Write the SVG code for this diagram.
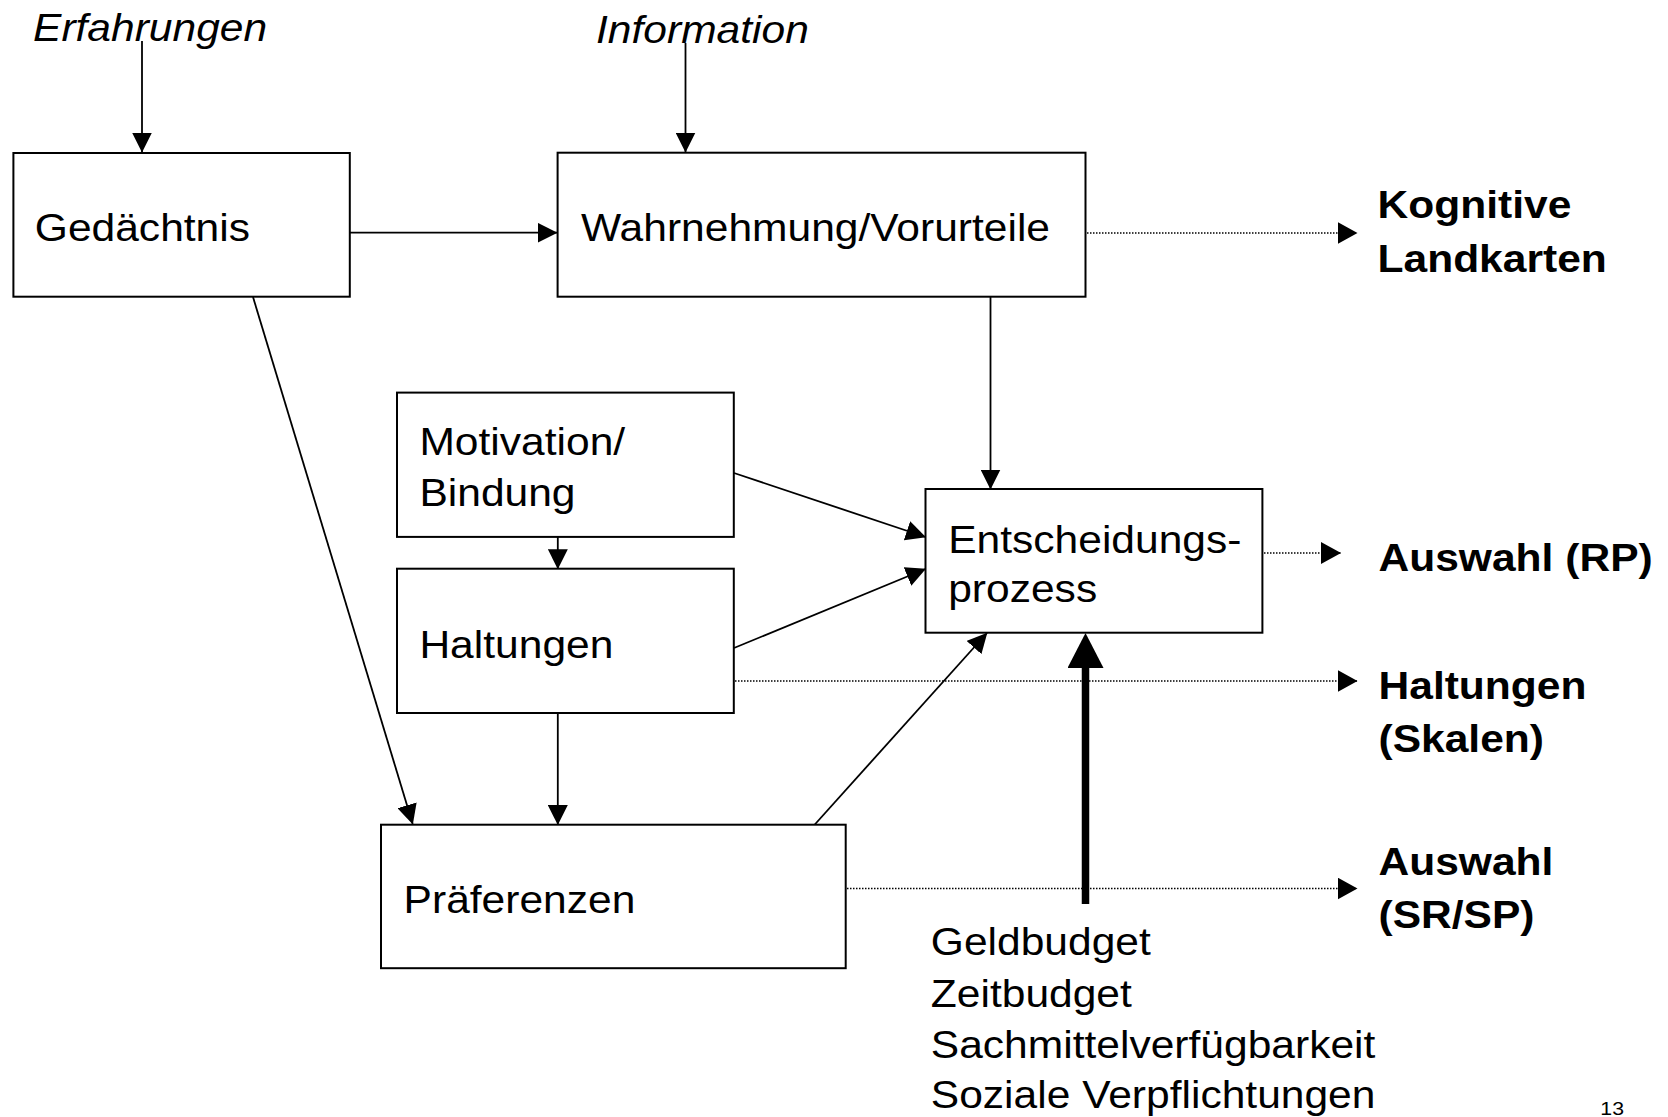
<svg xmlns="http://www.w3.org/2000/svg" width="1668" height="1117" viewBox="0 0 1668 1117">
<style>
  .box { fill: #ffffff; stroke: #000000; stroke-width: 2; }
  .t { font-family: "Liberation Sans", Arial, sans-serif; font-size: 38px; fill: #000000; }
  .it { font-style: italic; }
  .b { font-weight: bold; }
  .small { font-size: 19px; }
  .ln { stroke: #000000; stroke-width: 1.8; fill: none; }
  .dot { stroke: #000000; stroke-width: 1.3; stroke-dasharray: 1.5 1.5; fill: none; }
  .thick { stroke: #000000; stroke-width: 7.5; fill: none; }
</style>
<defs>
  <marker id="ah" markerUnits="userSpaceOnUse" markerWidth="21" markerHeight="20" refX="19.5" refY="10" orient="auto" viewBox="0 0 21 20">
    <path d="M0,0 L20,10 L0,20 Z" fill="#000000"/>
  </marker>
  <marker id="ahd" markerUnits="userSpaceOnUse" markerWidth="21" markerHeight="22" refX="19.5" refY="11" orient="auto" viewBox="0 0 21 22">
    <path d="M0,0 L20,11 L0,22 Z" fill="#000000"/>
  </marker>
  <marker id="aht" markerUnits="userSpaceOnUse" markerWidth="36" markerHeight="36" refX="0" refY="18" orient="auto" viewBox="0 0 36 36">
    <path d="M0,0 L35,18 L0,36 Z" fill="#000000"/>
  </marker>
</defs>
<rect x="0" y="0" width="1668" height="1117" fill="#ffffff"/>

<g id="connectors">
  <line class="ln" x1="142" y1="41" x2="142" y2="152" marker-end="url(#ah)"/>
  <line class="ln" x1="685.5" y1="43" x2="685.5" y2="152" marker-end="url(#ah)"/>
  <line class="ln" x1="350" y1="232.7" x2="557" y2="232.7" marker-end="url(#ah)"/>
  <line class="ln" x1="253" y1="297" x2="412.7" y2="824" marker-end="url(#ah)"/>
  <line class="ln" x1="990.5" y1="297" x2="990.5" y2="489" marker-end="url(#ah)"/>
  <line class="ln" x1="557.8" y1="537" x2="557.8" y2="568.7" marker-end="url(#ah)"/>
  <line class="ln" x1="557.8" y1="713" x2="557.8" y2="824.5" marker-end="url(#ah)"/>
  <line class="ln" x1="734" y1="473" x2="925.5" y2="537" marker-end="url(#ah)"/>
  <line class="ln" x1="734" y1="648" x2="925.5" y2="569" marker-end="url(#ah)"/>
  <line class="ln" x1="814.8" y1="824.5" x2="987" y2="633" marker-end="url(#ah)"/>
  <line class="thick" x1="1085.5" y1="904" x2="1085.5" y2="668" marker-end="url(#aht)"/>
  <line class="dot" x1="1087" y1="233" x2="1357" y2="233" marker-end="url(#ahd)"/>
  <line class="dot" x1="1264" y1="553" x2="1340.5" y2="553" marker-end="url(#ahd)"/>
  <line class="dot" x1="735" y1="681" x2="1357" y2="681" marker-end="url(#ahd)"/>
  <line class="dot" x1="847" y1="888.5" x2="1357" y2="888.5" marker-end="url(#ahd)"/>
</g>

<g id="erfahrungen">
  <text class="t it" transform="translate(33,40.7) scale(1.12,1)">Erfahrungen</text>
</g>
<g id="information">
  <text class="t it" transform="translate(596,43.3) scale(1.12,1)">Information</text>
</g>

<g id="gedaechtnis">
  <rect class="box" x="13.4" y="153" width="336.4" height="143.7"/>
  <text class="t" transform="translate(34.8,240.7) scale(1.12,1)">Gedächtnis</text>
</g>
<g id="wahrnehmung">
  <rect class="box" x="557.6" y="152.7" width="527.9" height="144"/>
  <text class="t" transform="translate(581,240.7) scale(1.12,1)">Wahrnehmung/Vorurteile</text>
</g>
<g id="motivation">
  <rect class="box" x="397" y="392.6" width="336.8" height="144.3"/>
  <text class="t" transform="translate(419.4,454.6) scale(1.12,1)"><tspan x="0" y="0">Motivation/</tspan><tspan x="0" y="51.7">Bindung</tspan></text>
</g>
<g id="haltungen">
  <rect class="box" x="397" y="568.7" width="336.8" height="144.3"/>
  <text class="t" transform="translate(419.4,657.5) scale(1.12,1)">Haltungen</text>
</g>
<g id="praeferenzen">
  <rect class="box" x="381" y="824.7" width="464.7" height="143.5"/>
  <text class="t" transform="translate(403.6,912.7) scale(1.12,1)">Präferenzen</text>
</g>
<g id="entscheidung">
  <rect class="box" x="925.5" y="489" width="336.9" height="143.7"/>
  <text class="t" transform="translate(948.2,553.3) scale(1.12,1)"><tspan x="0" y="0">Entscheidungs-</tspan><tspan x="0" y="48.4">prozess</tspan></text>
</g>

<g id="kognitive">
  <text class="t b" transform="translate(1377.5,218.3) scale(1.12,1)"><tspan x="0" y="0">Kognitive</tspan><tspan x="0" y="53.4">Landkarten</tspan></text>
</g>
<g id="auswahl-rp">
  <text class="t b" transform="translate(1378.5,570.7) scale(1.12,1)">Auswahl (RP)</text>
</g>
<g id="haltungen-skalen">
  <text class="t b" transform="translate(1378.5,699.3) scale(1.12,1)"><tspan x="0" y="0">Haltungen</tspan><tspan x="0" y="52.4">(Skalen)</tspan></text>
</g>
<g id="auswahl-srsp">
  <text class="t b" transform="translate(1378.5,875) scale(1.12,1)"><tspan x="0" y="0">Auswahl</tspan><tspan x="0" y="53.3">(SR/SP)</tspan></text>
</g>
<g id="budget">
  <text class="t" transform="translate(930.8,955) scale(1.12,1)"><tspan x="0" y="0">Geldbudget</tspan><tspan x="0" y="52.3">Zeitbudget</tspan><tspan x="0" y="103.3">Sachmittelverfügbarkeit</tspan><tspan x="0" y="153.3">Soziale Verpflichtungen</tspan></text>
</g>
<g id="page-number">
  <text class="t small" transform="translate(1600.3,1115) scale(1.12,1)">13</text>
</g>
</svg>
